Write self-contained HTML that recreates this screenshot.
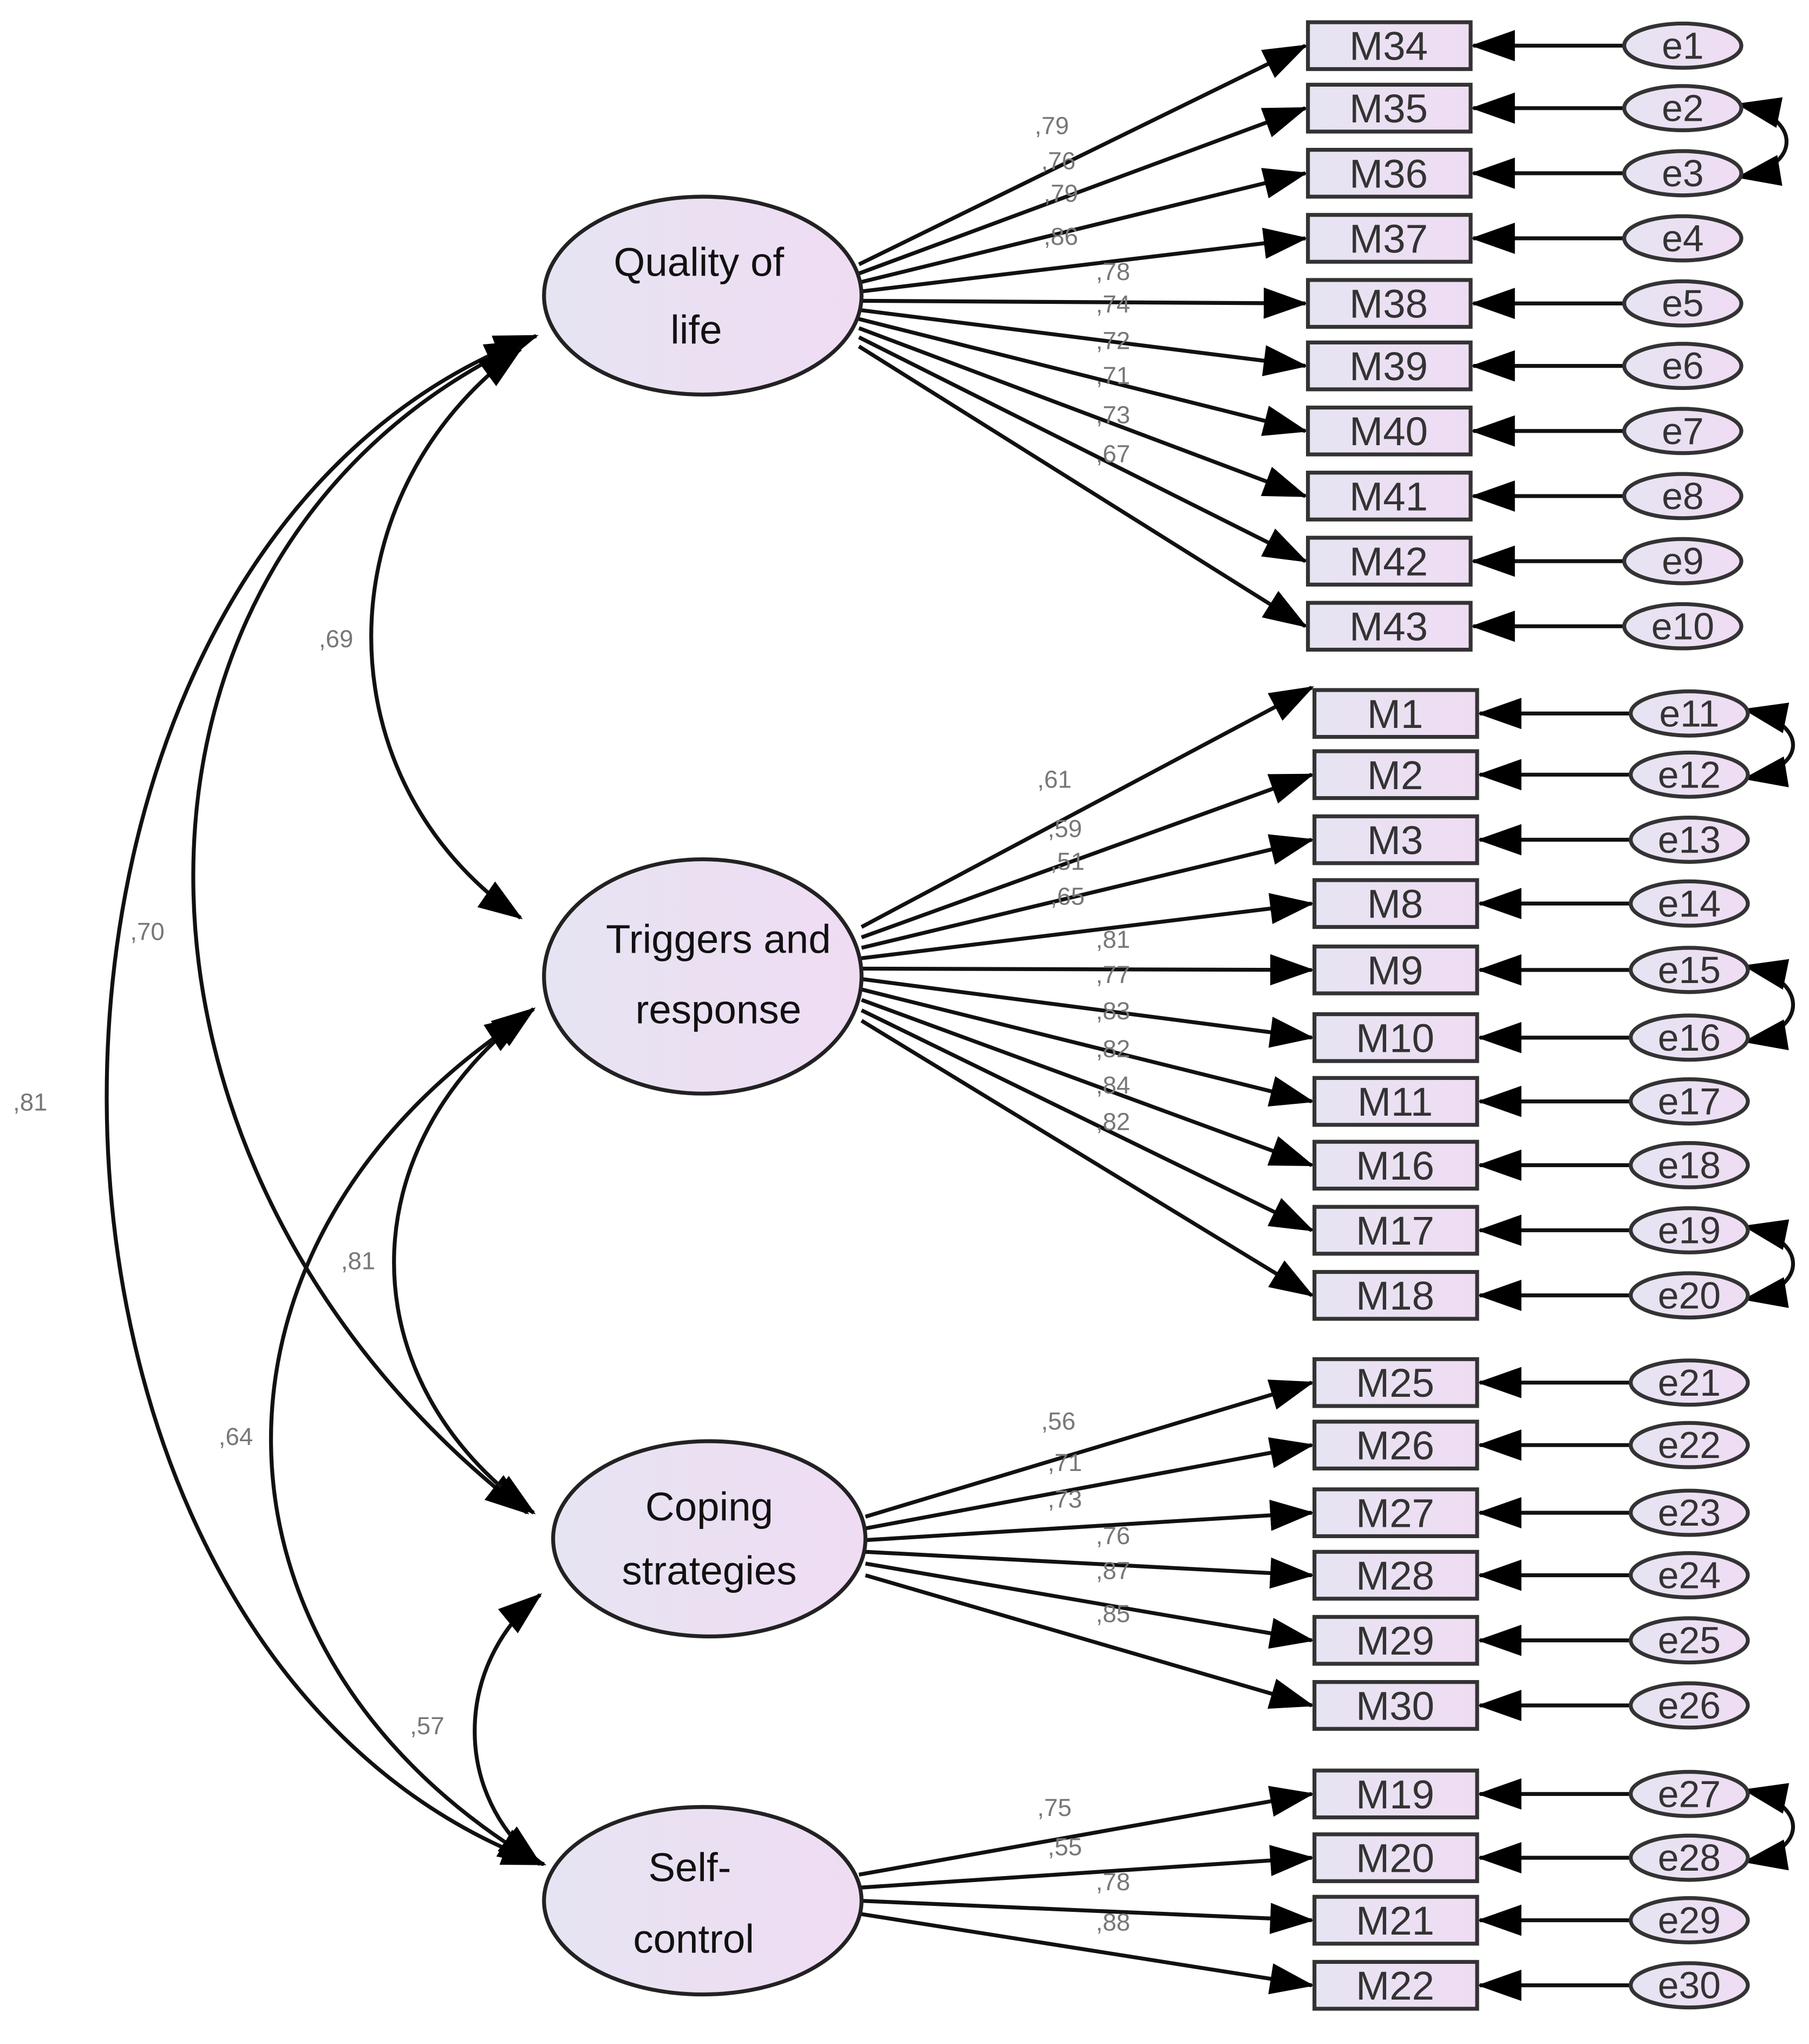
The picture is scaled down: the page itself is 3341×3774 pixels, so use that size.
<!DOCTYPE html>
<html><head><meta charset="utf-8"><style>
html,body{margin:0;padding:0;background:#fff;}
svg{display:block;}
text{font-family:"Liberation Sans",sans-serif;}
.c{fill:#777;font-size:19px;}
.b{fill:#333;font-size:31px;text-anchor:middle;}
.e{fill:#333;font-size:29px;text-anchor:middle;}
.l{fill:#111;font-size:31px;text-anchor:middle;}
</style></head><body>
<svg width="3341" height="3774" viewBox="0 0 1390 1570" xmlns="http://www.w3.org/2000/svg">
<defs>
<marker id="a" markerUnits="userSpaceOnUse" markerWidth="34" markerHeight="24" refX="32" refY="12" orient="auto-start-reverse"><path d="M0,0 L34,12 L0,24 Z" fill="#000"/></marker>
<linearGradient id="g" x1="0" x2="1"><stop offset="0" stop-color="#e6e4f2"/><stop offset="1" stop-color="#efdcf3"/></linearGradient>
</defs>
<g fill="none" stroke="#111" stroke-width="3">
<!-- covariances -->
<path d="M412,258 C -29,420 -29,1270 418,1432" marker-start="url(#a)" marker-end="url(#a)"/>
<path d="M405,262 C 63,420 63,900 405,1162" marker-start="url(#a)" marker-end="url(#a)"/>
<path d="M400,268 C 247,380 247,600 400,705" marker-start="url(#a)" marker-end="url(#a)"/>
<path d="M410,775 C 267,880 267,1060 410,1162" marker-start="url(#a)" marker-end="url(#a)"/>
<path d="M405,780 C 141,950 141,1270 415,1432" marker-start="url(#a)" marker-end="url(#a)"/>
<path d="M415,1225 C 348,1280 348,1380 415,1432" marker-start="url(#a)" marker-end="url(#a)"/>
<!-- loadings group1 -->
<path d="M660,203 L1003,35" marker-end="url(#a)"/>
<path d="M660,210 L1003,83" marker-end="url(#a)"/>
<path d="M660,217 L1003,133" marker-end="url(#a)"/>
<path d="M660,224 L1003,183" marker-end="url(#a)"/>
<path d="M660,231 L1003,233" marker-end="url(#a)"/>
<path d="M660,238 L1003,281" marker-end="url(#a)"/>
<path d="M660,245 L1003,331" marker-end="url(#a)"/>
<path d="M660,252 L1003,381" marker-end="url(#a)"/>
<path d="M660,259 L1003,431" marker-end="url(#a)"/>
<path d="M660,266 L1003,481" marker-end="url(#a)"/>
<!-- group2 -->
<path d="M662,712 L1008,528" marker-end="url(#a)"/>
<path d="M662,720 L1008,595" marker-end="url(#a)"/>
<path d="M662,728 L1008,645" marker-end="url(#a)"/>
<path d="M662,736 L1008,694" marker-end="url(#a)"/>
<path d="M662,744 L1008,745" marker-end="url(#a)"/>
<path d="M662,752 L1008,797" marker-end="url(#a)"/>
<path d="M662,760 L1008,846" marker-end="url(#a)"/>
<path d="M662,768 L1008,895" marker-end="url(#a)"/>
<path d="M662,776 L1008,945" marker-end="url(#a)"/>
<path d="M662,784 L1008,995" marker-end="url(#a)"/>
<!-- group3 -->
<path d="M665,1165 L1008,1062" marker-end="url(#a)"/>
<path d="M665,1174 L1008,1110" marker-end="url(#a)"/>
<path d="M665,1183 L1008,1162" marker-end="url(#a)"/>
<path d="M665,1192 L1008,1210" marker-end="url(#a)"/>
<path d="M665,1201 L1008,1260" marker-end="url(#a)"/>
<path d="M665,1210 L1008,1310" marker-end="url(#a)"/>
<!-- group4 -->
<path d="M660,1440 L1008,1378" marker-end="url(#a)"/>
<path d="M660,1450 L1008,1427" marker-end="url(#a)"/>
<path d="M660,1460 L1008,1475" marker-end="url(#a)"/>
<path d="M660,1470 L1008,1525" marker-end="url(#a)"/>
<!-- error arrows -->
<path d="M1248,35 H1132" marker-end="url(#a)"/><path d="M1248,83 H1132" marker-end="url(#a)"/><path d="M1248,133 H1132" marker-end="url(#a)"/><path d="M1248,183 H1132" marker-end="url(#a)"/><path d="M1248,233 H1132" marker-end="url(#a)"/><path d="M1248,281 H1132" marker-end="url(#a)"/><path d="M1248,331 H1132" marker-end="url(#a)"/><path d="M1248,381 H1132" marker-end="url(#a)"/><path d="M1248,431 H1132" marker-end="url(#a)"/><path d="M1248,481 H1132" marker-end="url(#a)"/>
<path d="M1253,548 H1137" marker-end="url(#a)"/><path d="M1253,595 H1137" marker-end="url(#a)"/><path d="M1253,645 H1137" marker-end="url(#a)"/><path d="M1253,694 H1137" marker-end="url(#a)"/><path d="M1253,745 H1137" marker-end="url(#a)"/><path d="M1253,797 H1137" marker-end="url(#a)"/><path d="M1253,846 H1137" marker-end="url(#a)"/><path d="M1253,895 H1137" marker-end="url(#a)"/><path d="M1253,945 H1137" marker-end="url(#a)"/><path d="M1253,995 H1137" marker-end="url(#a)"/>
<path d="M1253,1062 H1137" marker-end="url(#a)"/><path d="M1253,1110 H1137" marker-end="url(#a)"/><path d="M1253,1162 H1137" marker-end="url(#a)"/><path d="M1253,1210 H1137" marker-end="url(#a)"/><path d="M1253,1260 H1137" marker-end="url(#a)"/><path d="M1253,1310 H1137" marker-end="url(#a)"/>
<path d="M1253,1378 H1137" marker-end="url(#a)"/><path d="M1253,1427 H1137" marker-end="url(#a)"/><path d="M1253,1475 H1137" marker-end="url(#a)"/><path d="M1253,1525 H1137" marker-end="url(#a)"/>
<!-- error covariances -->
<path d="M1336,80 C1385,90 1385,128 1336,136" marker-start="url(#a)" marker-end="url(#a)"/>
<path d="M1341,545 C1390,555 1390,590 1341,598" marker-start="url(#a)" marker-end="url(#a)"/>
<path d="M1341,742 C1390,752 1390,792 1341,800" marker-start="url(#a)" marker-end="url(#a)"/>
<path d="M1341,942 C1390,952 1390,990 1341,998" marker-start="url(#a)" marker-end="url(#a)"/>
<path d="M1341,1375 C1390,1385 1390,1422 1341,1430" marker-start="url(#a)" marker-end="url(#a)"/>
</g>
<!-- latent ellipses -->
<g fill="url(#g)" stroke="#222" stroke-width="3">
<ellipse cx="540" cy="227" rx="122" ry="76"/>
<ellipse cx="540" cy="750" rx="122" ry="90"/>
<ellipse cx="545" cy="1182" rx="120" ry="75"/>
<ellipse cx="540" cy="1460" rx="122" ry="72"/>
</g>
<text class="l" x="537" y="212">Quality of</text><text class="l" x="535" y="264">life</text>
<text class="l" x="552" y="732">Triggers and</text><text class="l" x="552" y="786">response</text>
<text class="l" x="545" y="1168">Coping</text><text class="l" x="545" y="1217">strategies</text>
<text class="l" x="530" y="1445">Self-</text><text class="l" x="533" y="1500">control</text>
<!-- boxes -->
<g fill="url(#g)" stroke="#333" stroke-width="3">
<rect x="1005" y="17" width="125" height="36"/><rect x="1005" y="65" width="125" height="36"/><rect x="1005" y="115" width="125" height="36"/><rect x="1005" y="165" width="125" height="36"/><rect x="1005" y="215" width="125" height="36"/><rect x="1005" y="263" width="125" height="36"/><rect x="1005" y="313" width="125" height="36"/><rect x="1005" y="363" width="125" height="36"/><rect x="1005" y="413" width="125" height="36"/><rect x="1005" y="463" width="125" height="36"/>
<rect x="1010" y="530" width="125" height="36"/><rect x="1010" y="577" width="125" height="36"/><rect x="1010" y="627" width="125" height="36"/><rect x="1010" y="676" width="125" height="36"/><rect x="1010" y="727" width="125" height="36"/><rect x="1010" y="779" width="125" height="36"/><rect x="1010" y="828" width="125" height="36"/><rect x="1010" y="877" width="125" height="36"/><rect x="1010" y="927" width="125" height="36"/><rect x="1010" y="977" width="125" height="36"/>
<rect x="1010" y="1044" width="125" height="36"/><rect x="1010" y="1092" width="125" height="36"/><rect x="1010" y="1144" width="125" height="36"/><rect x="1010" y="1192" width="125" height="36"/><rect x="1010" y="1242" width="125" height="36"/><rect x="1010" y="1292" width="125" height="36"/>
<rect x="1010" y="1360" width="125" height="36"/><rect x="1010" y="1409" width="125" height="36"/><rect x="1010" y="1457" width="125" height="36"/><rect x="1010" y="1507" width="125" height="36"/>
</g>
<g>
<text class="b" x="1067" y="46">M34</text><text class="b" x="1067" y="94">M35</text><text class="b" x="1067" y="144">M36</text><text class="b" x="1067" y="194">M37</text><text class="b" x="1067" y="244">M38</text><text class="b" x="1067" y="292">M39</text><text class="b" x="1067" y="342">M40</text><text class="b" x="1067" y="392">M41</text><text class="b" x="1067" y="442">M42</text><text class="b" x="1067" y="492">M43</text>
<text class="b" x="1072" y="559">M1</text><text class="b" x="1072" y="606">M2</text><text class="b" x="1072" y="656">M3</text><text class="b" x="1072" y="705">M8</text><text class="b" x="1072" y="756">M9</text><text class="b" x="1072" y="808">M10</text><text class="b" x="1072" y="857">M11</text><text class="b" x="1072" y="906">M16</text><text class="b" x="1072" y="956">M17</text><text class="b" x="1072" y="1006">M18</text>
<text class="b" x="1072" y="1073">M25</text><text class="b" x="1072" y="1121">M26</text><text class="b" x="1072" y="1173">M27</text><text class="b" x="1072" y="1221">M28</text><text class="b" x="1072" y="1271">M29</text><text class="b" x="1072" y="1321">M30</text>
<text class="b" x="1072" y="1389">M19</text><text class="b" x="1072" y="1438">M20</text><text class="b" x="1072" y="1486">M21</text><text class="b" x="1072" y="1536">M22</text>
</g>
<!-- error ellipses -->
<g fill="url(#g)" stroke="#333" stroke-width="3">
<ellipse cx="1293" cy="35" rx="45" ry="17"/><ellipse cx="1293" cy="83" rx="45" ry="17"/><ellipse cx="1293" cy="133" rx="45" ry="17"/><ellipse cx="1293" cy="183" rx="45" ry="17"/><ellipse cx="1293" cy="233" rx="45" ry="17"/><ellipse cx="1293" cy="281" rx="45" ry="17"/><ellipse cx="1293" cy="331" rx="45" ry="17"/><ellipse cx="1293" cy="381" rx="45" ry="17"/><ellipse cx="1293" cy="431" rx="45" ry="17"/><ellipse cx="1293" cy="481" rx="45" ry="17"/>
<ellipse cx="1298" cy="548" rx="45" ry="17"/><ellipse cx="1298" cy="595" rx="45" ry="17"/><ellipse cx="1298" cy="645" rx="45" ry="17"/><ellipse cx="1298" cy="694" rx="45" ry="17"/><ellipse cx="1298" cy="745" rx="45" ry="17"/><ellipse cx="1298" cy="797" rx="45" ry="17"/><ellipse cx="1298" cy="846" rx="45" ry="17"/><ellipse cx="1298" cy="895" rx="45" ry="17"/><ellipse cx="1298" cy="945" rx="45" ry="17"/><ellipse cx="1298" cy="995" rx="45" ry="17"/>
<ellipse cx="1298" cy="1062" rx="45" ry="17"/><ellipse cx="1298" cy="1110" rx="45" ry="17"/><ellipse cx="1298" cy="1162" rx="45" ry="17"/><ellipse cx="1298" cy="1210" rx="45" ry="17"/><ellipse cx="1298" cy="1260" rx="45" ry="17"/><ellipse cx="1298" cy="1310" rx="45" ry="17"/>
<ellipse cx="1298" cy="1378" rx="45" ry="17"/><ellipse cx="1298" cy="1427" rx="45" ry="17"/><ellipse cx="1298" cy="1475" rx="45" ry="17"/><ellipse cx="1298" cy="1525" rx="45" ry="17"/>
</g>
<g>
<text class="e" x="1293" y="45">e1</text><text class="e" x="1293" y="93">e2</text><text class="e" x="1293" y="143">e3</text><text class="e" x="1293" y="193">e4</text><text class="e" x="1293" y="243">e5</text><text class="e" x="1293" y="291">e6</text><text class="e" x="1293" y="341">e7</text><text class="e" x="1293" y="391">e8</text><text class="e" x="1293" y="441">e9</text><text class="e" x="1293" y="491">e10</text>
<text class="e" x="1298" y="558">e11</text><text class="e" x="1298" y="605">e12</text><text class="e" x="1298" y="655">e13</text><text class="e" x="1298" y="704">e14</text><text class="e" x="1298" y="755">e15</text><text class="e" x="1298" y="807">e16</text><text class="e" x="1298" y="856">e17</text><text class="e" x="1298" y="905">e18</text><text class="e" x="1298" y="955">e19</text><text class="e" x="1298" y="1005">e20</text>
<text class="e" x="1298" y="1072">e21</text><text class="e" x="1298" y="1120">e22</text><text class="e" x="1298" y="1172">e23</text><text class="e" x="1298" y="1220">e24</text><text class="e" x="1298" y="1270">e25</text><text class="e" x="1298" y="1320">e26</text>
<text class="e" x="1298" y="1388">e27</text><text class="e" x="1298" y="1437">e28</text><text class="e" x="1298" y="1485">e29</text><text class="e" x="1298" y="1535">e30</text>
</g>
<!-- coefficients -->
<g class="c">
<text class="c" x="795" y="103">,79</text><text class="c" x="800" y="130">,76</text><text class="c" x="802" y="155">,79</text><text class="c" x="802" y="188">,86</text>
<text class="c" x="842" y="215">,78</text><text class="c" x="842" y="240">,74</text><text class="c" x="842" y="268">,72</text><text class="c" x="842" y="295">,71</text><text class="c" x="842" y="325">,73</text><text class="c" x="842" y="355">,67</text>
<text class="c" x="797" y="605">,61</text><text class="c" x="805" y="643">,59</text><text class="c" x="807" y="668">,51</text><text class="c" x="807" y="695">,65</text>
<text class="c" x="842" y="728">,81</text><text class="c" x="842" y="755">,77</text><text class="c" x="842" y="783">,83</text><text class="c" x="842" y="812">,82</text><text class="c" x="842" y="840">,84</text><text class="c" x="842" y="868">,82</text>
<text class="c" x="800" y="1098">,56</text><text class="c" x="805" y="1130">,71</text><text class="c" x="805" y="1158">,73</text><text class="c" x="842" y="1186">,76</text><text class="c" x="842" y="1213">,87</text><text class="c" x="842" y="1246">,85</text>
<text class="c" x="797" y="1395">,75</text><text class="c" x="805" y="1425">,55</text><text class="c" x="842" y="1452">,78</text><text class="c" x="842" y="1483">,88</text>
<text class="c" x="245" y="497">,69</text><text class="c" x="100" y="722">,70</text><text class="c" x="10" y="853">,81</text>
<text class="c" x="262" y="975">,81</text><text class="c" x="168" y="1110">,64</text><text class="c" x="315" y="1332">,57</text>
</g>
</svg>
</body></html>
